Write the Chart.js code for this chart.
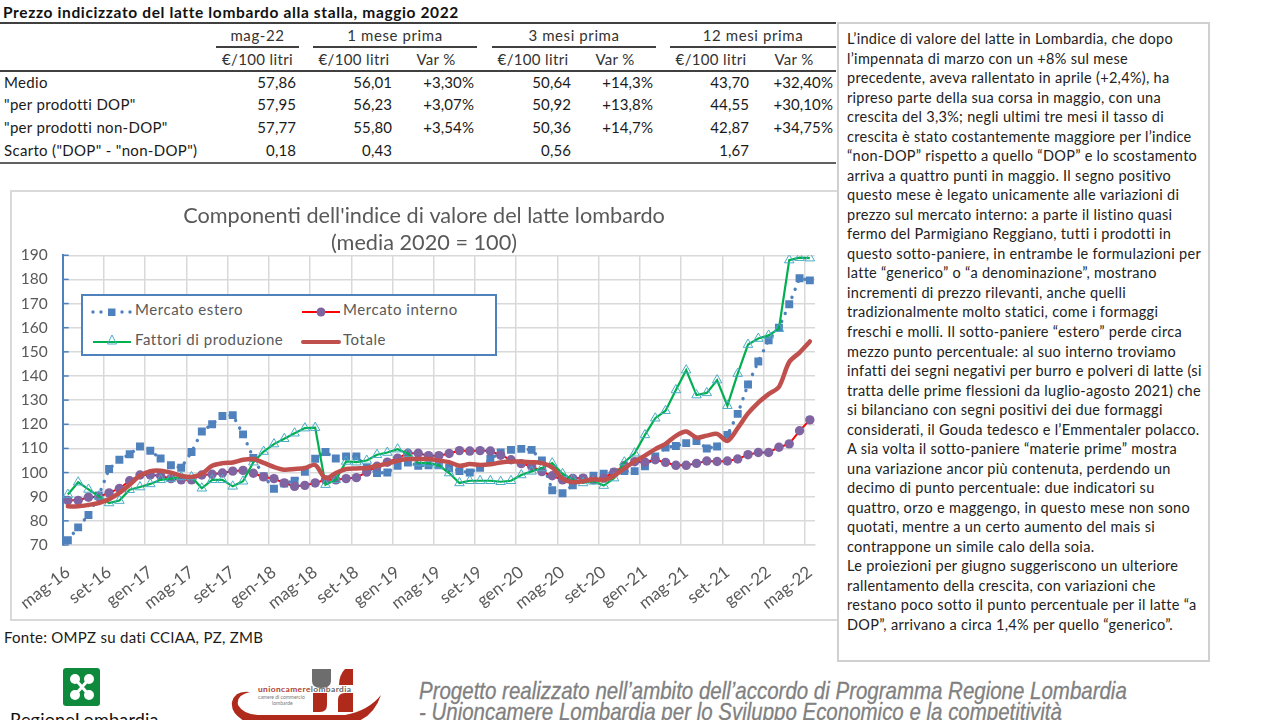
<!DOCTYPE html>
<html lang="it">
<head>
<meta charset="utf-8">
<title>Prezzo indicizzato del latte lombardo</title>
<script src="https://cdn.jsdelivr.net/npm/chart.js@4"></script>
<style>
  html, body { margin: 0; padding: 0; width: 1280px; height: 720px; overflow: hidden; background: #fff; }
  body { position: relative; font-family: Lato, sans-serif; color: #1a1a1a; }
  .abs { position: absolute; }
  #titoloTabella { left: 3px; top: 3px; font-size: 15.5px; font-weight: 700; color: #111; letter-spacing: .63px; white-space: nowrap; }
  #tabella { position: absolute; left: 0; top: 22px; width: 836px; table-layout: fixed; border-collapse: collapse; font-size: 15px; border-top: 2px solid #404040; border-bottom: 2px solid #606060; }
  #tabella td { padding: 0 3px 3px 0; height: 19.6px; text-align: right; white-space: nowrap; letter-spacing: .1px; }
  #tabella td.lab { text-align: left; padding-left: 4px; letter-spacing: .32px; }
  #tabella td.cen { text-align: center; color: #333; letter-spacing: .35px; }
  #tabella tr.h1 td, #tabella tr.h2 td { height: 22px; padding: 0; }
  #tabella tr.h1 td.cen { border-bottom: 2px solid #404040; letter-spacing: .6px; }
  #tabella tr.h2 td { border-bottom: 2px solid #404040; }
  #boxGrafico { left: 10px; top: 190px; width: 827px; height: 431px; border: 2px solid #d9d9d9; border-right: none; box-sizing: border-box; }
  #grafico { position: absolute; left: 12px; top: 191px; }
  #legenda { left: 81px; top: 294px; width: 416px; height: 62px; border: 2px solid #4f81bd; background: #fff; box-sizing: border-box; font-size: 15px; color: #595959; }
  #legenda div { position: absolute; white-space: nowrap; letter-spacing: .55px; }
  #legenda svg { position: absolute; }
  #fonte { left: 4px; top: 628px; font-size: 15px; letter-spacing: .27px; }
  #testo { left: 837px; top: 22px; width: 373px; height: 640px; border: 2px solid #d0d0d0; box-sizing: border-box; font-size: 14.5px; letter-spacing: .3px; line-height: 19.53px; padding: 5px 0 0 8px; color: #222; white-space: nowrap; }
  #progetto { left: 419px; top: 680px; font-family: "Liberation Sans", sans-serif; font-style: italic; font-size: 24px; line-height: 21px; color: #808080; white-space: nowrap; transform: scaleX(.853); transform-origin: left top; -webkit-text-stroke: .3px #808080; }
  #regione { left: 10px; top: 708px; font-size: 18px; letter-spacing: .2px; color: #111; white-space: nowrap; }
</style>
</head>
<body>

<div id="titoloTabella" class="abs">Prezzo indicizzato del latte lombardo alla stalla, maggio 2022</div>
<table id="tabella">
  <colgroup>
    <col style="width:216px"><col style="width:83px"><col style="width:14px"><col style="width:82px"><col style="width:82px"><col style="width:15px"><col style="width:82px"><col style="width:82px"><col style="width:14px"><col style="width:82px"><col style="width:84px">
  </colgroup>
  <tr class="h1"><td></td><td class="cen">mag-22</td><td></td><td class="cen" colspan="2">1 mese prima</td><td></td><td class="cen" colspan="2">3 mesi prima</td><td></td><td class="cen" colspan="2">12 mesi prima</td></tr>
  <tr class="h2"><td></td><td class="cen">€/100 litri</td><td></td><td class="cen">€/100 litri</td><td class="cen">Var %</td><td></td><td class="cen">€/100 litri</td><td class="cen">Var %</td><td></td><td class="cen">€/100 litri</td><td class="cen">Var %</td></tr>
  <tr><td class="lab">Medio</td><td>57,86</td><td></td><td>56,01</td><td>+3,30%</td><td></td><td>50,64</td><td>+14,3%</td><td></td><td>43,70</td><td>+32,40%</td></tr>
  <tr><td class="lab">"per prodotti DOP"</td><td>57,95</td><td></td><td>56,23</td><td>+3,07%</td><td></td><td>50,92</td><td>+13,8%</td><td></td><td>44,55</td><td>+30,10%</td></tr>
  <tr><td class="lab">"per prodotti non-DOP"</td><td>57,77</td><td></td><td>55,80</td><td>+3,54%</td><td></td><td>50,36</td><td>+14,7%</td><td></td><td>42,87</td><td>+34,75%</td></tr>
  <tr><td class="lab">Scarto ("DOP" - "non-DOP")</td><td>0,18</td><td></td><td>0,43</td><td></td><td></td><td>0,56</td><td></td><td></td><td>1,67</td><td></td></tr>
</table>

<div id="boxGrafico" class="abs"></div>
<canvas id="grafico" width="816" height="428"></canvas>

<div id="legenda" class="abs">
  <svg style="left:7px;top:10px" width="44" height="12"><circle cx="3" cy="6" r="1.7" fill="#4f81bd"/><circle cx="11" cy="6" r="1.7" fill="#4f81bd"/><rect x="18" y="2.5" width="7.5" height="7.5" fill="#4f81bd"/><circle cx="32" cy="6" r="1.7" fill="#4f81bd"/><circle cx="40" cy="6" r="1.7" fill="#4f81bd"/></svg>
  <div style="left:52px;top:4px">Mercato estero</div>
  <svg style="left:218px;top:10px" width="40" height="12"><line x1="1" y1="6" x2="39" y2="6" stroke="#ff0000" stroke-width="2"/><circle cx="20" cy="6" r="4.5" fill="#8064a2"/></svg>
  <div style="left:260px;top:4px">Mercato interno</div>
  <svg style="left:9px;top:35px" width="40" height="16"><line x1="1" y1="11" x2="39" y2="11" stroke="#00b050" stroke-width="2"/><path d="M20 4 L24.5 13 L15.5 13 Z" fill="none" stroke="#4bacc6"/></svg>
  <div style="left:52px;top:34px">Fattori di produzione</div>
  <svg style="left:218px;top:35px" width="40" height="16"><line x1="2" y1="11" x2="38" y2="11" stroke="#c0504d" stroke-width="4" stroke-linecap="round"/></svg>
  <div style="left:260px;top:34px">Totale</div>
</div>

<div id="fonte" class="abs">Fonte: OMPZ su dati CCIAA, PZ, ZMB</div>

<div id="testo" class="abs">L’indice di valore del latte in Lombardia, che dopo<br>
l’impennata di marzo con un +8% sul mese<br>
precedente, aveva rallentato in aprile (+2,4%), ha<br>
ripreso parte della sua corsa in maggio, con una<br>
crescita del 3,3%; negli ultimi tre mesi il tasso di<br>
crescita è stato costantemente maggiore per l’indice<br>
“non-DOP” rispetto a quello “DOP” e lo scostamento<br>
arriva a quattro punti in maggio. Il segno positivo<br>
questo mese è legato unicamente alle variazioni di<br>
prezzo sul mercato interno: a parte il listino quasi<br>
fermo del Parmigiano Reggiano, tutti i prodotti in<br>
questo sotto-paniere, in entrambe le formulazioni per<br>
latte “generico” o “a denominazione”, mostrano<br>
incrementi di prezzo rilevanti, anche quelli<br>
tradizionalmente molto statici, come i formaggi<br>
freschi e molli. Il sotto-paniere “estero” perde circa<br>
mezzo punto percentuale: al suo interno troviamo<br>
infatti dei segni negativi per burro e polveri di latte (si<br>
tratta delle prime flessioni da luglio-agosto 2021) che<br>
si bilanciano con segni positivi dei due formaggi<br>
considerati, il Gouda tedesco e l’Emmentaler polacco.<br>
A sia volta il sotto-paniere “materie prime” mostra<br>
una variazione ancor più contenuta, perdendo un<br>
decimo di punto percentuale: due indicatori su<br>
quattro, orzo e maggengo, in questo mese non sono<br>
quotati, mentre a un certo aumento del mais si<br>
contrappone un simile calo della soia.<br>
Le proiezioni per giugno suggeriscono un ulteriore<br>
rallentamento della crescita, con variazioni che<br>
restano poco sotto il punto percentuale per il latte “a<br>
DOP”, arrivano a circa 1,4% per quello “generico”.</div>

<!-- loghi in basso -->
<svg class="abs" style="left:60px;top:665px" width="44" height="44">
  <rect x="3" y="3" width="37" height="38" rx="3" fill="#0f8a3c"/>
  <path d="M15 14 L29 30 M29 14 L15 30" stroke="#fff" stroke-width="3"/>
  <g fill="#fff"><circle cx="15" cy="14" r="5"/><circle cx="29" cy="14" r="5"/><circle cx="15" cy="30" r="5"/><circle cx="29" cy="30" r="5"/></g>
</svg>
<div id="regione" class="abs">RegioneLombardia</div>
<svg class="abs" style="left:225px;top:660px" width="165" height="60">
  <g transform="translate(-225,-660)">
    <path d="M312 669 H331 V681 Q331 688 321 688 Q312 688 312 681 Z" fill="#6d6d6d"/>
    <path d="M345 669 H353 V685 H339 Q339 675 345 669 Z" fill="#b02a1c"/>
    <path d="M313 693 H327 V705 Q327 712 320 712 H313 Z" fill="#b02a1c"/>
    <path d="M345 693 H353 V712 H338 V700 Q338 693 345 693 Z" fill="#b02a1c"/>
    <path d="M250 692 Q236 695 238 705 Q243 714 258 715 L345 715 Q368 711 381 695 Q372 722 345 724 L250 724 Q230 715 232 702 Q235 690 250 692 Z" fill="#b02a1c"/>
    <text x="258" y="692" font-family="Lato, sans-serif" font-size="8.4" font-weight="700" letter-spacing=".4" fill="#b0402f">unioncamere<tspan fill="#666">lombardia</tspan></text>
    <text x="258" y="699" font-family="Lato, sans-serif" font-size="5" fill="#777">camere di commercio</text>
    <text x="272" y="705" font-family="Lato, sans-serif" font-size="5" fill="#777">lombarde</text>
  </g>
</svg>
<div id="progetto" class="abs">Progetto realizzato nell’ambito dell’accordo di Programma Regione Lombardia<br>- Unioncamere Lombardia per lo Sviluppo Economico e la competitività</div>

<script>
const mesi = [
  'mag-16','giu-16','lug-16','ago-16','set-16','ott-16','nov-16','dic-16',
  'gen-17','feb-17','mar-17','apr-17','mag-17','giu-17','lug-17','ago-17','set-17','ott-17','nov-17','dic-17',
  'gen-18','feb-18','mar-18','apr-18','mag-18','giu-18','lug-18','ago-18','set-18','ott-18','nov-18','dic-18',
  'gen-19','feb-19','mar-19','apr-19','mag-19','giu-19','lug-19','ago-19','set-19','ott-19','nov-19','dic-19',
  'gen-20','feb-20','mar-20','apr-20','mag-20','giu-20','lug-20','ago-20','set-20','ott-20','nov-20','dic-20',
  'gen-21','feb-21','mar-21','apr-21','mag-21','giu-21','lug-21','ago-21','set-21','ott-21','nov-21','dic-21',
  'gen-22','feb-22','mar-22','apr-22','mag-22'
];

const mercatoEstero = [
  72, 77.3, 82.4, 90.5, 101.5, 105.3, 107.6, 110.8, 109, 105.8, 103, 102,
  108.5, 117, 120, 123.4, 123.8, 115.8, 106, 98.5, 93.3, 95.5, 96.6, 100.3,
  105.7, 108.5, 105.8, 106.7, 106.7, 102, 99.8, 100, 102.8, 104.2, 102.8, 103,
  103, 101.9, 100.6, 100, 102, 105.6, 108.3, 109.4, 109.8, 109.4, 105, 92.7,
  91.4, 94.7, 97.5, 98.7, 99.5, 100, 100.6, 100.6, 102.6, 106.7, 110.4, 111,
  112.2, 113.1, 110, 110.8, 115.6, 124.3, 136.5, 146, 154.8, 160, 169.7, 180.5, 179.6
];

const mercatoInterno = [
  88.5, 88.5, 89.8, 90, 91.6, 93.4, 96.6, 99, 99, 98.7, 97.5, 97,
  97, 99, 99.3, 99.8, 100.6, 100.9, 99.7, 98.2, 97.5, 95.7, 94.3, 94.7,
  95.7, 97, 97, 97.5, 97.9, 100.2, 102.6, 104.3, 106, 108, 108, 107,
  107, 107.9, 109.1, 108.9, 109.1, 108.9, 107.2, 105.3, 103.7, 102.6, 100.4, 98.7,
  97, 97.6, 97.7, 97, 97.7, 100.2, 102.8, 104.5, 104.3, 105.3, 104.2, 103,
  103, 103.8, 104.8, 104.6, 104.8, 105.6, 107.4, 108.3, 108.3, 110.5, 111.9, 117.3, 121.8
];

const fattoriProduzione = [
  90.9, 96, 93, 90.2, 87.4, 88.4, 92.9, 94, 95.3, 97, 97.5, 98.2,
  98.2, 93.5, 97, 97, 94.3, 96.4, 104.3, 108.7, 111.8, 114, 116.3, 118.4,
  118.6, 95, 97, 104.6, 104.3, 105, 107.4, 108.3, 109.7, 107.8, 104, 103.9,
  103, 99.8, 95.7, 96.6, 96.6, 96.6, 96.2, 96.6, 99, 100.5, 101.9, 103.9,
  99.5, 97, 95.7, 96.4, 94.6, 97.7, 104.3, 108, 115.6, 122.5, 125.6, 134.2,
  142.4, 132.1, 133, 138.3, 127.7, 141, 153, 155.5, 156.8, 159.6, 188, 189, 188.8
];

const totale = [
  86, 86, 86.6, 87.4, 89, 91.6, 95, 98.7, 100.6, 100.8, 100, 98.7,
  98.2, 99.5, 102.8, 103.9, 104.2, 105.3, 105.6, 104, 102.3, 101.2, 101.5, 101.9,
  103.1, 97.7, 99.8, 101.5, 101.7, 101.9, 102.8, 103.7, 104.9, 105.6, 105.6, 105.6,
  105, 104.3, 102.8, 103.5, 103.1, 103.4, 104.2, 104.6, 104.5, 104.3, 103.9, 102.1,
  97.5, 96, 96.4, 97.2, 96.9, 98.7, 101.7, 104.6, 107, 109.7, 111.9, 115.2,
  117, 114.5, 115.3, 116, 113.1, 118.4, 124.5, 129, 132.5, 135.5, 145.8, 149.7, 154.3
];

const titoloGrafico = ["Componenti dell'indice di valore del latte lombardo", '(media 2020 = 100)'];

const grigioTesto = '#595959';
const grigioGriglia = '#d9d9d9';
const bluAsse = '#4f81bd';

// tacche dell'asse y rivolte verso l'interno, come in Excel
const tacchePlugin = {
  id: 'tacche',
  afterLayout(chart) {
    // il titolo nell'originale e' centrato sul riquadro, non sull'area utile
    chart.titleBlock.left += 6.5;
    chart.titleBlock.right += 6.5;
  },
  beforeDatasetsDraw(chart) {
    const { ctx, scales } = chart;
    ctx.save();
    ctx.strokeStyle = bluAsse;
    ctx.lineWidth = 1.5;
    scales.y.ticks.forEach((t) => {
      const py = scales.y.getPixelForValue(t.value);
      ctx.beginPath();
      ctx.moveTo(scales.x.left, py);
      ctx.lineTo(scales.x.left + 6, py);
      ctx.stroke();
    });
    ctx.restore();
  }
};

new Chart(document.getElementById('grafico').getContext('2d'), {
  type: 'line',
  plugins: [tacchePlugin],
  data: {
    labels: mesi,
    datasets: [
      {
        label: 'Mercato estero',
        data: mercatoEstero,
        order: 4,
        borderColor: bluAsse,
        borderWidth: 3.4,
        borderDash: [0.1, 8.6],
        borderCapStyle: 'round',
        pointStyle: 'rect',
        pointRadius: 5.6,
        pointBackgroundColor: bluAsse,
        pointBorderWidth: 0
      },
      {
        label: 'Mercato interno',
        data: mercatoInterno,
        order: 3,
        borderColor: '#ff0000',
        borderWidth: 2,
        pointStyle: 'circle',
        pointRadius: 4.7,
        pointBackgroundColor: '#8064a2',
        pointBorderColor: '#8064a2',
        pointBorderWidth: 0
      },
      {
        label: 'Fattori di produzione',
        data: fattoriProduzione,
        order: 2,
        borderColor: '#00b050',
        borderWidth: 2.2,
        pointStyle: 'triangle',
        pointRadius: 5.5,
        pointBackgroundColor: 'rgba(255,255,255,0)',
        pointBorderColor: '#4bacc6',
        pointBorderWidth: 1
      },
      {
        label: 'Totale',
        data: totale,
        order: 1,
        borderColor: '#c0504d',
        borderWidth: 4.5,
        tension: 0.3,
        borderCapStyle: 'round',
        pointRadius: 0
      }
    ]
  },
  options: {
    responsive: false,
    animation: false,
    layout: { padding: { left: 8, right: 13, top: 0, bottom: 0 } },
    plugins: {
      legend: { display: false },
      tooltip: { enabled: false },
      title: {
        display: true,
        text: titoloGrafico,
        color: grigioTesto,
        font: { family: 'Lato, sans-serif', size: 21.7, weight: 'normal', lineHeight: 1.25 },
        padding: { top: 11, bottom: -1 }
      }
    },
    scales: {
      x: {
        offset: true,
        border: { color: grigioGriglia, width: 1.5 },
        grid: {
          offset: true,
          drawTicks: false,
          lineWidth: 1.5,
          color: (c) => (c.index % 4 === 0 ? grigioGriglia : 'rgba(0,0,0,0)')
        },
        ticks: {
          autoSkip: false,
          minRotation: 38,
          maxRotation: 38,
          padding: 17,
          color: grigioTesto,
          font: { family: 'Lato, sans-serif', size: 17 },
          callback: function(val, i) {
            return i % 4 === 0 ? this.getLabelForValue(val) : '';
          }
        },
        afterFit(scala) {
          scala.height = 74;
          scala.paddingLeft = 0;
          scala.paddingRight = 0;
        }
      },
      y: {
        min: 70,
        max: 190,
        border: { color: bluAsse, width: 2 },
        grid: { drawTicks: false, color: grigioGriglia, lineWidth: 1.5 },
        ticks: {
          stepSize: 10,
          padding: 15,
          color: grigioTesto,
          font: { family: 'Lato, sans-serif', size: 15.5 }
        },
        afterFit(scala) {
          scala.width = 42.7;
          scala.paddingTop = 0;
          scala.paddingBottom = 0;
        }
      }
    }
  }
});
</script>
</body>
</html>
